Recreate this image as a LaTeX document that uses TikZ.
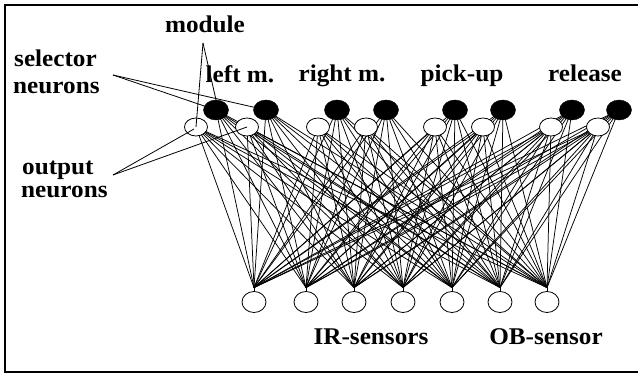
\documentclass[tikz,border=0pt]{standalone}
\usepackage{fontspec}
\setmainfont{Liberation Serif}
\usetikzlibrary{shapes.geometric,backgrounds}

\begin{document}
\begin{tikzpicture}[x=1pt,y=-1pt,
  selector/.style={ellipse, fill=black, draw=black, minimum width=25pt, minimum height=20pt, inner sep=0pt},
  outneuron/.style={ellipse, fill=white, draw=black, line width=0.8pt, minimum width=23pt, minimum height=18pt, inner sep=0pt},
  inneuron/.style={ellipse, fill=white, draw=black, line width=0.8pt, minimum width=24pt, minimum height=21pt, inner sep=0pt},
  lbl/.style={font=\fontsize{24}{28}\selectfont\bfseries, inner sep=0pt, xscale=1.05},
  wire/.style={line width=0.75pt},
  pointer/.style={line width=0.8pt},
]
\useasboundingbox (0,0) rectangle (638,374);
\draw[line width=2pt] (5,5) rectangle (646,372);

% selector (black) and output (white) neurons of the four modules
\foreach \i/\sx/\ox in {1/216/196, 2/266/247, 3/337/318, 4/386/366,
                        5/455/435, 6/503/483, 7/572/551, 8/619/598} {
  \node[selector]  (s\i) at (\sx,110) {};
  \node[outneuron] (o\i) at (\ox,127) {};
}

% sensory input neurons
\foreach \j/\ix in {1/254, 2/306, 3/354, 4/403, 5/452, 6/500, 7/547} {
  \node[inneuron] (in\j) at (\ix,302) {};
  \coordinate (t\j) at ([yshift=3.5pt]in\j.north);
}

% full connectivity from inputs to every selector and output neuron
\begin{scope}[on background layer]
  \foreach \j in {1,...,7} {
    \draw[wire] (t\j) -- (in\j.north);
    \foreach \i in {1,...,8} {
      \draw[wire] (s\i.center) -- (t\j);
      \draw[wire] (o\i.center) -- (t\j);
    }
  }
\end{scope}

% labels
\node[lbl, anchor=base] (module) at (205,33) {module};
\node[lbl, anchor=base west] (sel1) at (14,67) {selector};
\node[lbl, anchor=base west] (sel2) at (13,94) {neurons};
\node[lbl, anchor=base west] (out1) at (22,175) {output};
\node[lbl, anchor=base west] (out2) at (21,198) {neurons};
\node[lbl, anchor=base] (lm) at (240,83) {left m.};
\node[lbl, anchor=base] (rm) at (342,82) {right m.};
\node[lbl, anchor=base] (pu) at (462,82) {pick-up};
\node[lbl, anchor=base] (rel) at (585,82) {release};
\node[lbl, anchor=base] (ir) at (371,345) {IR-sensors};
\node[lbl, anchor=base] (ob) at (546,345) {OB-sensor};

% pointers from the annotations
\coordinate (modtip) at (203,43);
\coordinate (seltip) at (113,75);
\coordinate (outtip) at (113,175);
\draw[pointer] (modtip) -- (o1.center);
\draw[pointer] (modtip) -- (s1.north);
\draw[pointer] (seltip) -- (s1);
\draw[pointer] (seltip) -- (s2);
\draw[pointer] (outtip) -- ([xshift=-2pt,yshift=-2pt]o1.center);
\draw[pointer] (outtip) -- (o2.center);
\end{tikzpicture}
\end{document}
